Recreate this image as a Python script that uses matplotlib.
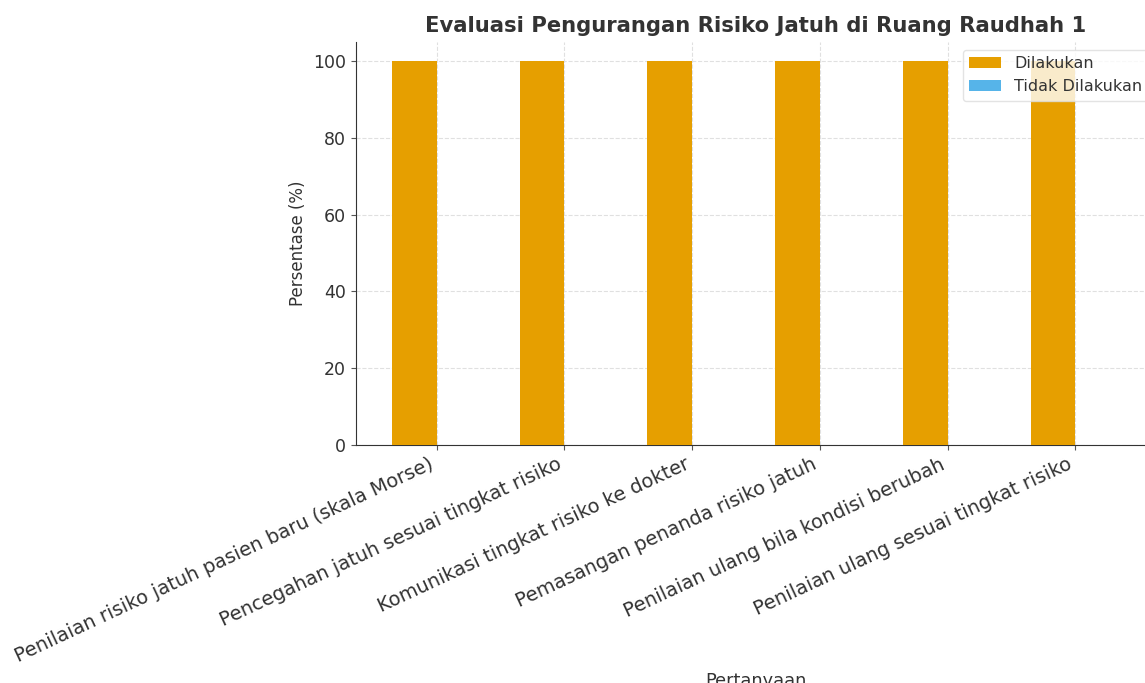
import matplotlib
matplotlib.use("Agg")
import matplotlib.pyplot as plt
import numpy as np

# ===========================================
# DATA
# ===========================================

pertanyaan = [
    "Penilaian risiko jatuh pasien baru (skala Morse)",
    "Pencegahan jatuh sesuai tingkat risiko",
    "Komunikasi tingkat risiko ke dokter",
    "Pemasangan penanda risiko jatuh",
    "Penilaian ulang bila kondisi berubah",
    "Penilaian ulang sesuai tingkat risiko",
]

dilakukan = [100, 100, 100, 100, 100, 100]

tidak_dilakukan = [0, 0, 0, 0, 0, 0]

# ===========================================
# PLOT
# ===========================================

text_color = "#333333"

fig = plt.figure(figsize=(11.45, 6.83), dpi=100)

ax = fig.add_axes([0.3105, 0.3485, 0.6996, 0.59])

x = np.arange(len(pertanyaan))
width = 0.35

ax.bar(x - width / 2, dilakukan, width, label="Dilakukan", color="#E69F00", zorder=3)
ax.bar(x + width / 2, tidak_dilakukan, width, label="Tidak Dilakukan", color="#56B4E9", zorder=3)

ax.set_xticks(x)
ax.set_xticklabels(pertanyaan, rotation=25, ha="right", fontsize=14, color=text_color)
ax.tick_params(axis="y", labelsize=12.5, labelcolor=text_color, color="#555555")
ax.tick_params(axis="x", color="#555555")

ax.set_ylabel("Persentase (%)", fontsize=12, color=text_color)
ax.set_xlabel("Pertanyaan", fontsize=12.8, color=text_color)
ax.set_title("Evaluasi Pengurangan Risiko Jatuh di Ruang Raudhah 1",
             fontsize=15.2, fontweight="bold", color=text_color, pad=7)

ax.grid(True, linestyle="--", color="#e0e0e0", linewidth=0.8, zorder=0)

for side in ["top", "right"]:
    ax.spines[side].set_visible(False)
for side in ["left", "bottom"]:
    ax.spines[side].set_color("#333333")

leg = ax.legend(loc="upper right", fontsize=11.5, frameon=True)
leg.get_frame().set_edgecolor("#dddddd")
for t in leg.get_texts():
    t.set_color(text_color)

fig.savefig("out.png", dpi=100)
